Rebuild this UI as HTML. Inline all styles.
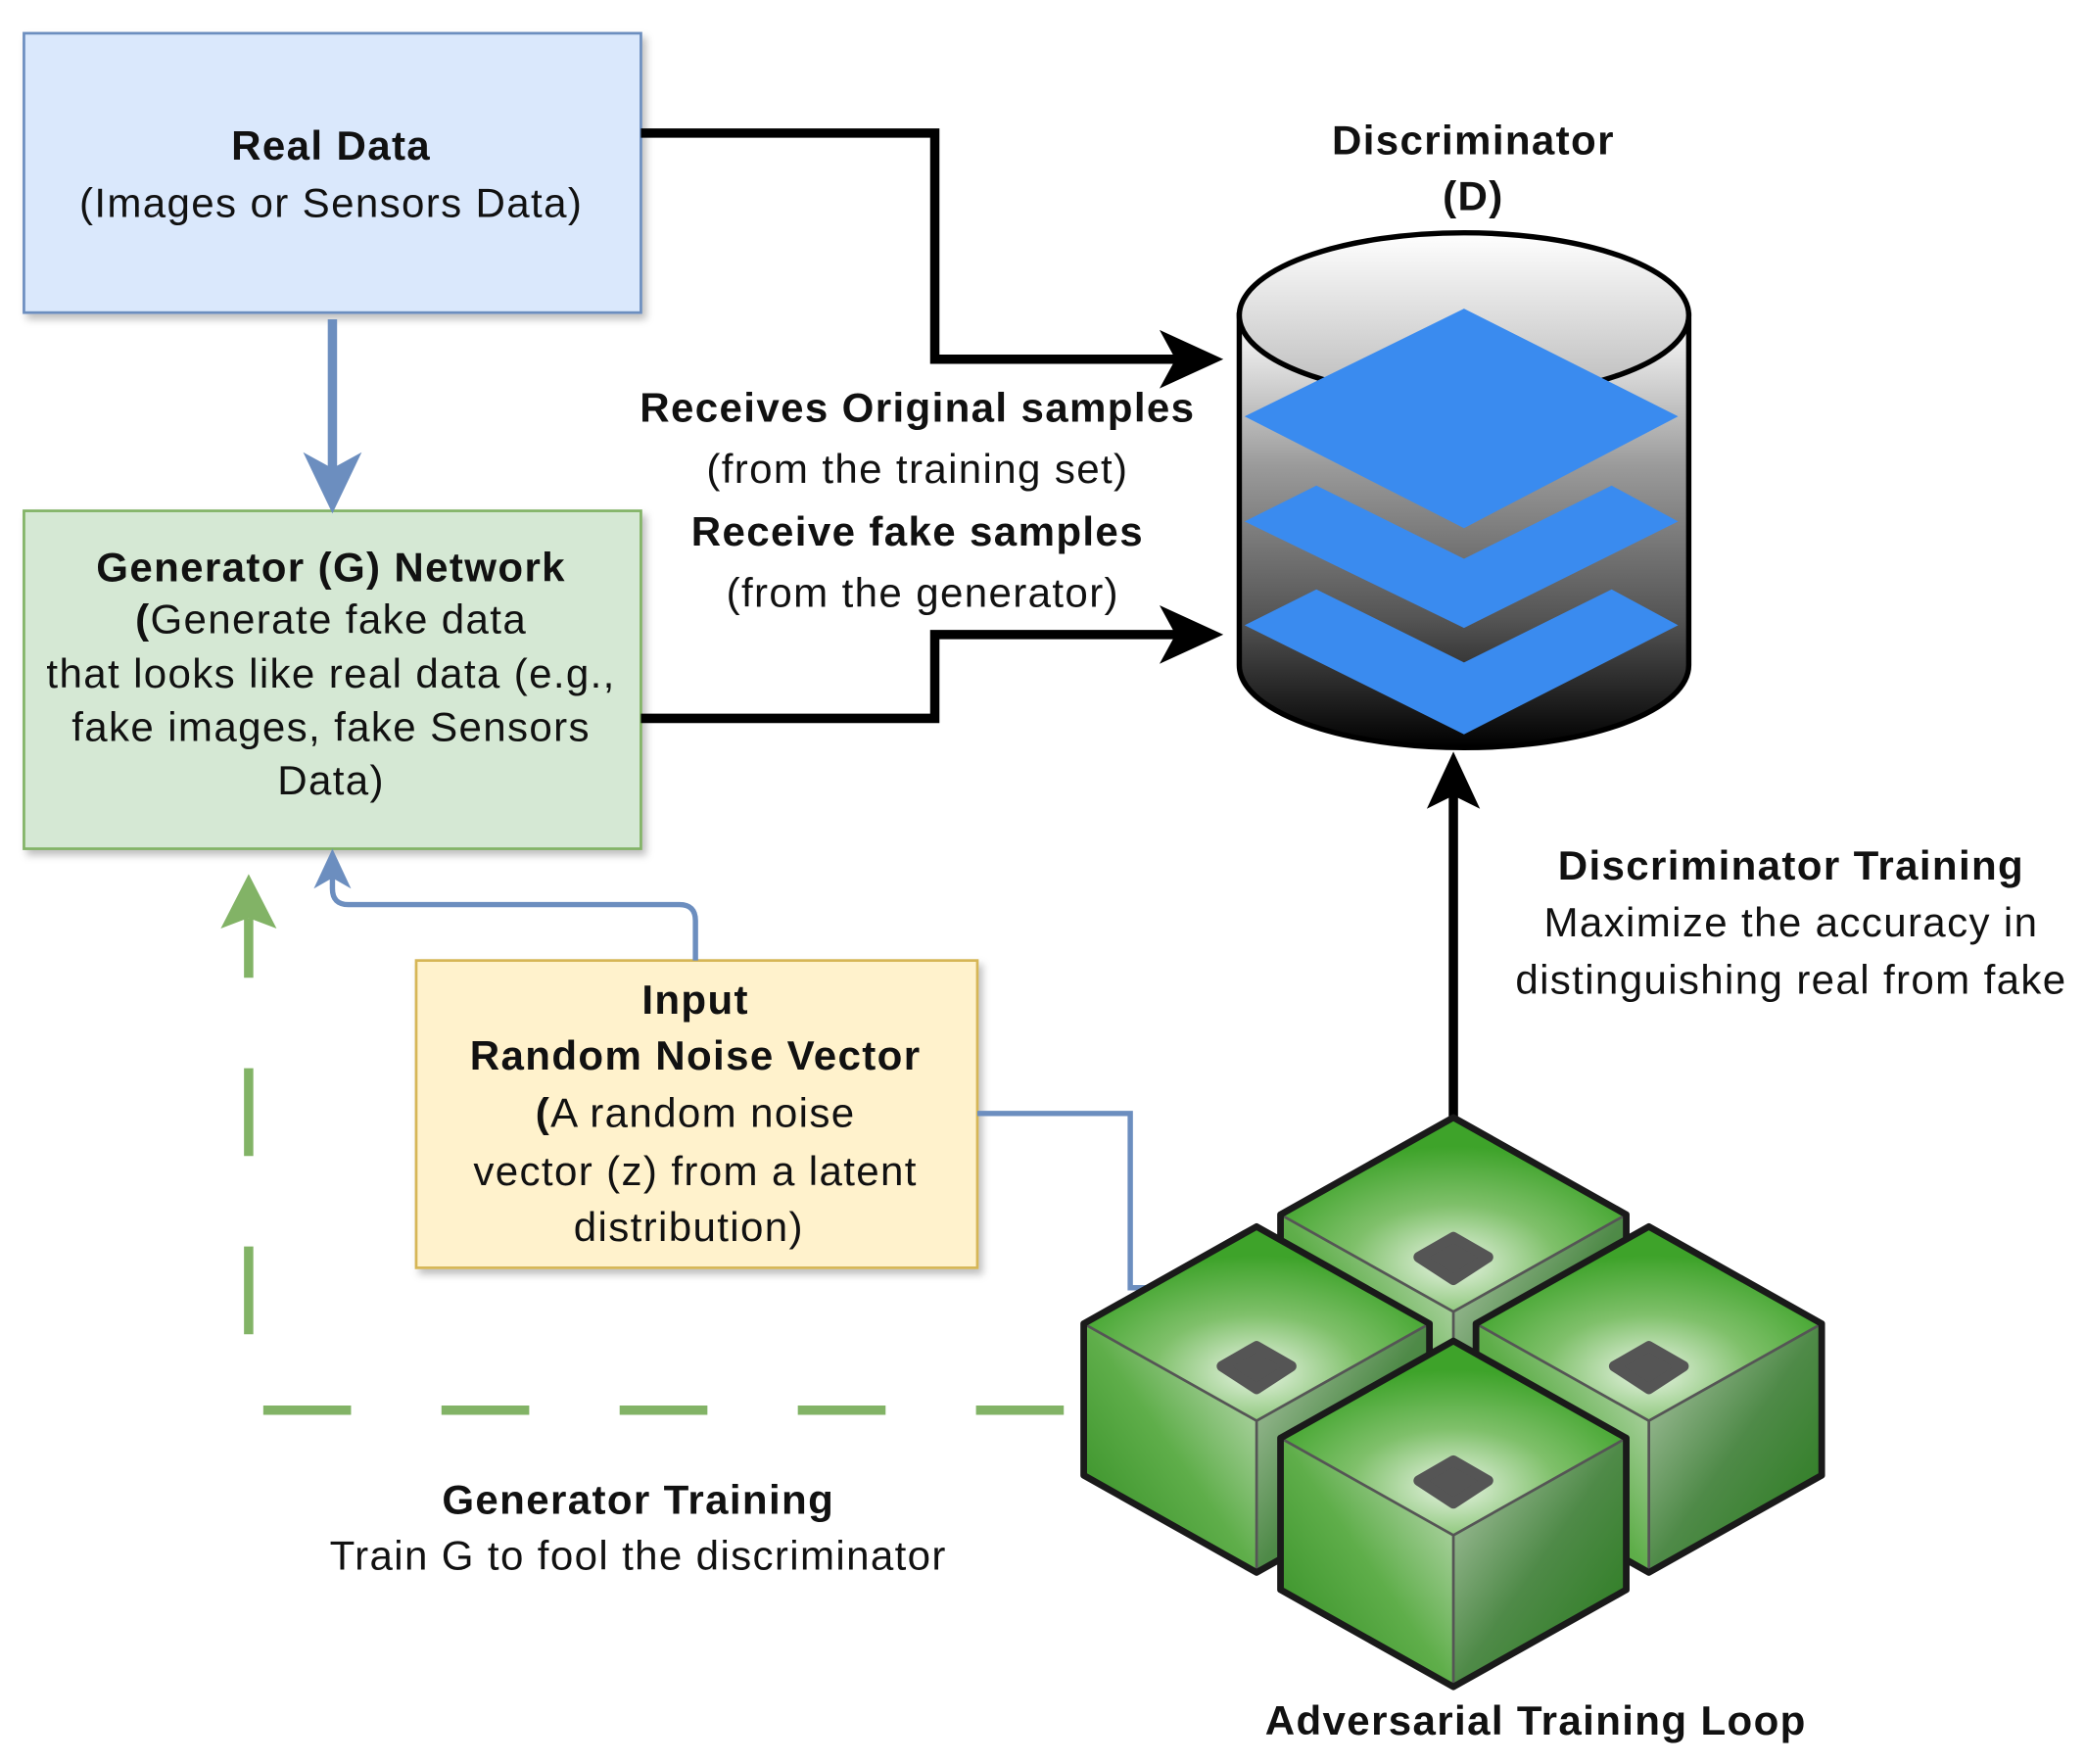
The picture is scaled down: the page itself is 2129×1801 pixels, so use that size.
<!DOCTYPE html>
<html><head><meta charset="utf-8"><style>
html,body{margin:0;padding:0;background:#fff;}
svg{display:block;}
text{font-family:"Liberation Sans",Arial,sans-serif;font-size:31px;letter-spacing:1px;fill:#111;text-anchor:middle;}
.b{font-weight:bold;}
</style></head><body>
<svg width="2129" height="1801" viewBox="0 0 1568 1326" preserveAspectRatio="none" xmlns="http://www.w3.org/2000/svg">
<defs>
<filter id="sh" x="-5%" y="-5%" width="115%" height="115%"><feDropShadow dx="3" dy="4" stdDeviation="3" flood-color="#000" flood-opacity="0.25"/></filter>
<linearGradient id="cyl" x1="0" y1="0" x2="0" y2="1">
<stop offset="0" stop-color="#ffffff"/><stop offset="0.35" stop-color="#9a9a9a"/><stop offset="0.7" stop-color="#555"/><stop offset="1" stop-color="#000"/></linearGradient>
<linearGradient id="cylTop" x1="0" y1="0" x2="0" y2="1"><stop offset="0" stop-color="#fff"/><stop offset="1" stop-color="#bbb"/></linearGradient>
<radialGradient id="gtop" cx="0.5" cy="0.75" r="0.6"><stop offset="0" stop-color="#e8f4e4"/><stop offset="0.5" stop-color="#7fc06a"/><stop offset="1" stop-color="#3ea32a"/></radialGradient>
<linearGradient id="gleft" x1="1" y1="0" x2="0" y2="1"><stop offset="0" stop-color="#cfe3c8"/><stop offset="0.5" stop-color="#5fae4a"/><stop offset="1" stop-color="#2f8a20"/></linearGradient>
<linearGradient id="gright" x1="0" y1="0" x2="1" y2="1"><stop offset="0" stop-color="#b8cdb2"/><stop offset="0.5" stop-color="#4f8a48"/><stop offset="1" stop-color="#247a18"/></linearGradient>
<g id="cube">
<polygon points="0,0 130,73 0,146 -130,73" fill="url(#gtop)"/>
<polygon points="-130,73 0,146 0,260 -130,187" fill="url(#gleft)"/>
<polygon points="130,73 0,146 0,260 130,187" fill="url(#gright)"/>
<polyline points="-130,73 0,146 130,73" fill="none" stroke="#555" stroke-width="2"/>
<line x1="0" y1="146" x2="0" y2="260" stroke="#555" stroke-width="2"/>
<polygon points="0,0 130,73 130,187 0,260 -130,187 -130,73" fill="none" stroke="#1a1a1a" stroke-width="5" stroke-linejoin="round"/>
<polygon points="0,90 26,105 0,122 -26,105" fill="#555" stroke="#555" stroke-width="8" stroke-linejoin="round"/>
</g>
</defs>

<rect x="18" y="25" width="464" height="210" fill="#dae8fc" stroke="#6c8ebf" stroke-width="2" filter="url(#sh)"/>
<rect x="18" y="384" width="464" height="254" fill="#d5e8d4" stroke="#82b366" stroke-width="2" filter="url(#sh)"/>
<rect x="313" y="722" width="422" height="231" fill="#fff2cc" stroke="#d6b656" stroke-width="2" filter="url(#sh)"/>

<text x="249" y="120" class="b">Real Data</text>
<text x="249" y="163">(Images or Sensors Data)</text>

<text x="249" y="437" class="b">Generator (G) Network</text>
<text x="249" y="476"><tspan class="b">(</tspan>Generate fake data</text>
<text x="249" y="517">that looks like real data (e.g.,</text>
<text x="249" y="557">fake images, fake Sensors</text>
<text x="249" y="597">Data)</text>

<text x="523" y="762" class="b">Input</text>
<text x="523" y="804" class="b">Random Noise Vector</text>
<text x="523" y="847"><tspan class="b">(</tspan>A random noise</text>
<text x="523" y="891">vector (z) from a latent</text>
<text x="518" y="933">distribution)</text>

<polyline points="482,100 703,100 703,270 890,270" fill="none" stroke="#000" stroke-width="7"/>
<polygon points="920,270 872,248 884,270 872,292" fill="#000"/>
<polyline points="482,540 703,540 703,477 890,477" fill="none" stroke="#000" stroke-width="7"/>
<polygon points="920,477 872,455 884,477 872,499" fill="#000"/>
<line x1="1093" y1="842" x2="1093" y2="590" stroke="#000" stroke-width="7"/>
<polygon points="1093,565 1073,608 1093,598 1113,608" fill="#000"/>

<line x1="250" y1="240" x2="250" y2="360" stroke="#6c8ebf" stroke-width="7"/>
<polygon points="250,386 228,340 250,352 272,340" fill="#6c8ebf"/>
<path d="M523,722 L523,692 Q523,680 511,680 L262,680 Q250,680 250,668 L250,650" fill="none" stroke="#6c8ebf" stroke-width="4"/>
<polygon points="250,638 236,668 250,660 264,668" fill="#6c8ebf"/>
<polyline points="735,837 850,837 850,968 862,968" fill="none" stroke="#6c8ebf" stroke-width="4"/>

<polyline points="800,1060 187,1060 187,690" fill="none" stroke="#82b366" stroke-width="7" stroke-dasharray="66,68"/>
<polygon points="187,657 166,698 187,690 208,698" fill="#82b366"/>

<text x="690" y="317" class="b">Receives Original samples</text>
<text x="690" y="363">(from the training set)</text>
<text x="690" y="410" class="b">Receive fake samples</text>
<text x="694" y="456">(from the generator)</text>

<text x="1108" y="116" class="b">Discriminator</text>
<text x="1108" y="158" class="b">(D)</text>

<text x="1347" y="661" class="b">Discriminator Training</text>
<text x="1347" y="704">Maximize the accuracy in</text>
<text x="1347" y="747">distinguishing real from fake</text>

<text x="480" y="1138" class="b">Generator Training</text>
<text x="480" y="1180">Train G to fool the discriminator</text>

<text x="1155" y="1304" class="b">Adversarial Training Loop</text>

<path d="M932,237 L932,500 A169,62 0 0 0 1270,500 L1270,237 Z" fill="url(#cyl)" stroke="#000" stroke-width="4"/>
<ellipse cx="1101" cy="237" rx="169" ry="62" fill="url(#cylTop)" stroke="#000" stroke-width="4"/>
<polygon points="936,470 990,443 1101,498 1212,443 1262,470 1101,552" fill="#3a8bef"/>
<polygon points="936,392 990,365 1101,420 1212,365 1262,392 1101,472" fill="#3a8bef"/>
<polygon points="1101,232 1262,313 1101,397 936,313" fill="#3a8bef"/>

<use href="#cube" x="1093" y="840"/>
<use href="#cube" x="945" y="922"/>
<use href="#cube" x="1240" y="922"/>
<use href="#cube" x="1093" y="1008"/>
</svg>
</body></html>
